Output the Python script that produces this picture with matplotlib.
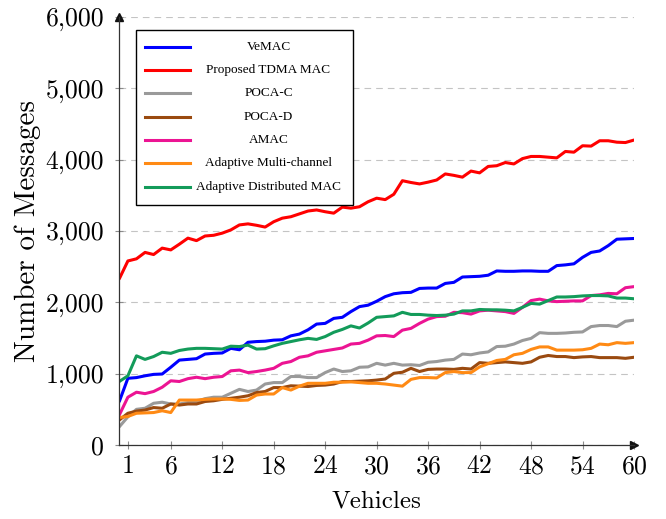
import numpy as np
import matplotlib

matplotlib.use("Agg")
import matplotlib.pyplot as plt
from matplotlib.patches import Rectangle
from matplotlib.ticker import FuncFormatter

# number of vehicles (x axis)
vehicles = np.arange(0, 61)

vemac = [610, 935, 945, 970, 990, 995, 1090, 1190, 1200, 1210, 1275, 1285, 1290,
         1355, 1335, 1440, 1450, 1455, 1470, 1475, 1530, 1555, 1615, 1695, 1705,
         1775, 1790, 1870, 1940, 1960, 2015, 2080, 2120, 2135, 2140, 2195, 2200,
         2200, 2265, 2280, 2355, 2360, 2365, 2380, 2440, 2435, 2435, 2440, 2440,
         2435, 2435, 2515, 2525, 2540, 2630, 2700, 2720, 2795, 2885, 2890, 2895]
tdma = [2330, 2580, 2610, 2700, 2670, 2760, 2735, 2815, 2900, 2865, 2930, 2940,
        2970, 3015, 3085, 3100, 3080, 3055, 3130, 3180, 3200, 3240, 3280, 3295,
        3270, 3250, 3335, 3320, 3340, 3410, 3460, 3440, 3515, 3705, 3680, 3660,
        3685, 3715, 3800, 3780, 3755, 3840, 3815, 3905, 3915, 3960, 3940, 4015,
        4045, 4045, 4035, 4025, 4115, 4105, 4195, 4190, 4265, 4265, 4245, 4240, 4275]
poca_c = [255, 395, 500, 515, 585, 600, 575, 575, 595, 610, 650, 670, 670, 725,
          780, 750, 770, 855, 875, 875, 960, 960, 945, 945, 1015, 1065, 1030, 1040,
          1090, 1095, 1145, 1120, 1145, 1120, 1125, 1115, 1160, 1170, 1190, 1200,
          1275, 1265, 1290, 1305, 1380, 1385, 1415, 1465, 1495, 1575, 1565, 1565,
          1570, 1580, 1585, 1660, 1675, 1675, 1660, 1735, 1750]
poca_d = [350, 445, 475, 490, 525, 515, 575, 560, 575, 575, 610, 620, 640, 655,
          670, 690, 735, 750, 805, 805, 830, 825, 820, 835, 840, 855, 890, 890, 895,
          900, 910, 925, 1005, 1020, 1075, 1030, 1060, 1065, 1065, 1060, 1075, 1065,
          1155, 1145, 1155, 1165, 1155, 1145, 1165, 1230, 1255, 1240, 1240, 1225,
          1235, 1240, 1225, 1225, 1225, 1215, 1230]
amac = [420, 670, 740, 720, 750, 810, 900, 890, 930, 950, 930, 950, 960, 1040,
        1050, 1015, 1030, 1050, 1075, 1145, 1170, 1230, 1250, 1300, 1320, 1340,
        1360, 1415, 1425, 1470, 1530, 1535, 1520, 1610, 1635, 1705, 1765, 1800,
        1805, 1860, 1855, 1835, 1880, 1890, 1880, 1870, 1845, 1930, 2025, 2045,
        2020, 2010, 2015, 2020, 2020, 2095, 2105, 2125, 2120, 2205, 2220]
adaptive_mc = [385, 400, 445, 450, 455, 480, 455, 630, 630, 630, 640, 645, 645,
               640, 625, 630, 700, 715, 715, 805, 770, 825, 865, 865, 865, 880, 880,
               885, 875, 865, 865, 855, 840, 825, 920, 945, 945, 940, 1015, 1030,
               1015, 1015, 1095, 1140, 1185, 1200, 1265, 1285, 1340, 1375, 1375,
               1330, 1330, 1330, 1335, 1355, 1415, 1405, 1435, 1425, 1435]
adaptive_dist = [890, 970, 1250, 1200, 1240, 1300, 1285, 1325, 1345, 1355, 1355,
                 1350, 1345, 1385, 1380, 1400, 1345, 1350, 1390, 1425, 1450, 1475,
                 1495, 1480, 1520, 1580, 1620, 1670, 1640, 1710, 1790, 1800, 1810,
                 1860, 1830, 1830, 1820, 1815, 1820, 1835, 1880, 1880, 1900, 1895,
                 1895, 1890, 1880, 1930, 1985, 1975, 2025, 2075, 2075, 2080, 2090,
                 2095, 2095, 2090, 2060, 2060, 2050]

labels = ["VeMAC", "Proposed TDMA MAC", "POCA-C", "POCA-D", "AMAC",
          "Adaptive Multi-channel", "Adaptive Distributed MAC"]
values = [vemac, tdma, poca_c, poca_d, amac, adaptive_mc, adaptive_dist]
colors = ["#0000ff", "#ff0000", "#9a9a9a", "#9a4a10", "#ec1493", "#ff8a14", "#139b5a"]

x_ticks = [1, 6, 12, 18, 24, 30, 36, 42, 48, 54, 60]
y_ticks = [0, 1000, 2000, 3000, 4000, 5000, 6000]

plt.rcParams["font.family"] = "cmr10"
plt.rcParams["axes.formatter.use_mathtext"] = True

W, H = 666, 519
fig = plt.figure(figsize=(W / 100, H / 100), dpi=100)
# axes box in pixels: left 119, right 634, top 17, bottom 445
ax = fig.add_axes([119.3 / W, 1 - 445 / H, (634 - 119.3) / W, 428 / H])

for lab, vals, col in zip(labels, values, colors):
    ax.plot(vehicles, vals, color=col, lw=2.2, label=lab,
            solid_joinstyle="round", solid_capstyle="round")

ax.set_xlim(0, 60)
ax.set_ylim(0, 6000)
ax.set_xticks(x_ticks)
ax.set_yticks(y_ticks)
ax.yaxis.set_major_formatter(FuncFormatter(lambda v, p: f"{int(v):,}"))
ax.tick_params(direction="inout", length=6, width=0.8, color="#8c8c8c",
               labelsize=18.5)
ax.tick_params(axis="y", pad=8)
ax.tick_params(axis="x", pad=4)
ax.grid(axis="y", color="#c4c4c4", lw=0.8, linestyle=(0, (6, 4.5)))
ax.set_axisbelow(True)

for side in ["top", "right"]:
    ax.spines[side].set_visible(False)
for side in ["left", "bottom"]:
    ax.spines[side].set_color("#333333")
    ax.spines[side].set_linewidth(0.9)
ax.plot(1, 0, ">", color="#111111", ms=6, transform=ax.transAxes, clip_on=False)
ax.plot(0, 1, "^", color="#111111", ms=6, transform=ax.transAxes, clip_on=False)

ax.set_xlabel("Vehicles", fontsize=18)
ax.set_ylabel("Number of Messages", fontsize=21)
ax.xaxis.set_label_coords(0.5, -0.105)
ax.yaxis.set_label_coords(-0.153, 0.5)

# legend box drawn by hand so the labels can be centred like pgfplots does
def fx(px):
    return px / W


def fy(py):
    return 1 - py / H


fig.add_artist(Rectangle((fx(135.5), fy(205)), fx(353) - fx(135.5), fy(30) - fy(205),
                         transform=fig.transFigure, fill=True, facecolor="white",
                         edgecolor="black", lw=1.0, zorder=5))
for i, (lab, col) in enumerate(zip(labels, colors)):
    row = 46.7 + i * 23.35
    fig.add_artist(plt.Line2D([fx(145), fx(190)], [fy(row), fy(row)],
                              transform=fig.transFigure, color=col, lw=2.2, zorder=6))
    fig.text(fx(268.5), fy(row), lab, ha="center", va="center", fontsize=9.5,
             family="Liberation Serif", zorder=6)

plt.savefig("out.png", dpi=100, facecolor="white")
plt.close()
